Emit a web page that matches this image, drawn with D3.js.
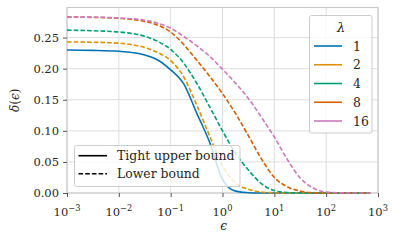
<!DOCTYPE html>
<html>
<head>
<meta charset="utf-8">
<script src="https://cdn.jsdelivr.net/npm/d3@7"></script>
<style>
  html, body { margin: 0; padding: 0; background: #fff; }
  svg { display: block; }
  text { font-family: "DejaVu Serif", serif; fill: #262626; }
</style>
</head>
<body>
<svg id="chart" width="397" height="246"></svg>
<script>
// ---- data ----
const logEps = [-3, -2.5, -2, -1.5, -1.25, -1, -0.75, -0.5, -0.25, 0, 0.25, 0.5, 0.75, 1, 1.25, 1.5, 1.75, 2, 2.5, 2.85];
const lambdas = ["1", "2", "4", "8", "16"];
const delta1  = [0.230, 0.2295, 0.228, 0.222, 0.214, 0.198, 0.176, 0.129, 0.082, 0.022, 0.003, 0.0005, 0, 0, 0, 0, 0, 0, 0, 0];
const delta2  = [0.243, 0.2425, 0.241, 0.234, 0.226, 0.213, 0.187, 0.142, 0.092, 0.044, 0.016, 0.006, 0.0015, 0.0003, 0, 0, 0, 0, 0, 0];
const delta4  = [0.262, 0.261, 0.259, 0.252, 0.244, 0.231, 0.209, 0.177, 0.139, 0.100, 0.064, 0.037, 0.015, 0.004, 0.0008, 0, 0, 0, 0, 0];
const delta8  = [0.283, 0.2825, 0.281, 0.276, 0.270, 0.259, 0.239, 0.214, 0.188, 0.160, 0.128, 0.092, 0.055, 0.025, 0.010, 0.003, 0.0005, 0, 0, 0];
const delta16 = [0.283, 0.2828, 0.2815, 0.278, 0.273, 0.265, 0.252, 0.237, 0.220, 0.199, 0.177, 0.152, 0.122, 0.090, 0.054, 0.024, 0.008, 0.0015, 0, 0];
const seriesValues = [delta1, delta2, delta4, delta8, delta16];
const seriesDashed = [false, true, true, true, true];
const colors = ["#0173b2", "#de8f05", "#029e73", "#d55e00", "#cc78bc"];
const xTicks = [1e-3, 1e-2, 1e-1, 1e0, 1e1, 1e2, 1e3];
const xTickExp = ["\u22123", "\u22122", "\u22121", "0", "1", "2", "3"];
const yTicks = [0, 0.05, 0.10, 0.15, 0.20, 0.25];
const styleLabels = ["Tight upper bound", "Lower bound"];

// ---- layout ----
const svg = d3.select("#chart");
const L = 67, R = 378, T = 7.5, B = 193;
const FS = 11.5, LFS = 12.4;
const x = d3.scaleLog().domain([1e-3, 1e3]).range([L, R]);
const y = d3.scaleLinear().domain([0, 0.2984]).range([B, T]);
const gridColor = "#dedede", frameColor = "#c8c8c8", tickColor = "#555";

// grid
svg.append("g").selectAll("line.vg").data(xTicks).join("line")
  .attr("x1", d => x(d)).attr("x2", d => x(d)).attr("y1", T).attr("y2", B)
  .attr("stroke", gridColor).attr("stroke-width", 1);
svg.append("g").selectAll("line.hg").data(yTicks).join("line")
  .attr("x1", L).attr("x2", R).attr("y1", d => y(d)).attr("y2", d => y(d))
  .attr("stroke", gridColor).attr("stroke-width", 1);

// frame
svg.append("rect").attr("x", L).attr("y", T).attr("width", R - L).attr("height", B - T)
  .attr("fill", "none").attr("stroke", frameColor).attr("stroke-width", 1.1);

// axes
const yAxis = d3.axisLeft(y).tickValues(yTicks).tickFormat(d3.format(".2f")).tickSize(4).tickPadding(4);
const gy = svg.append("g").attr("transform", `translate(${L},0)`).call(yAxis);
gy.attr("font-family", null);
gy.select(".domain").remove();
gy.selectAll(".tick line").attr("stroke", tickColor);
gy.selectAll(".tick text").attr("font-size", FS).attr("fill", "#262626");

const xAxis = d3.axisBottom(x).tickValues(xTicks).tickFormat("").tickSize(4);
const gx = svg.append("g").attr("transform", `translate(0,${B})`).call(xAxis);
gx.select(".domain").remove();
gx.selectAll(".tick line").attr("stroke", tickColor);
// tick labels 10^k
const xl = svg.append("g");
xTicks.forEach((t, i) => {
  const tx = xl.append("text").attr("x", x(t)).attr("y", 216).attr("text-anchor", "middle")
    .attr("font-size", FS);
  tx.append("tspan").text("10");
  tx.append("tspan").attr("dy", -5).attr("font-size", 8.3).text(xTickExp[i]);
});

// axis labels
svg.append("text").attr("x", (L + R) / 2 + 1).attr("y", 230).attr("text-anchor", "middle")
  .attr("font-size", 12).attr("font-style", "italic").text("\u03f5");
svg.append("text").attr("transform", `translate(19,${(T + B) / 2}) rotate(-90)`)
  .attr("text-anchor", "middle").attr("font-size", 12)
  .html('<tspan font-style="italic">\u03b4</tspan>(<tspan font-style="italic">\u03f5</tspan>)');

// lines
const line = d3.line().x(d => x(Math.pow(10, d[0]))).y(d => y(d[1])).curve(d3.curveMonotoneX);
const gl = svg.append("g");
seriesValues.forEach((vals, i) => {
  const pts = logEps.map((e, j) => [e, vals[j]]);
  gl.append("path").attr("d", line(pts)).attr("fill", "none")
    .attr("stroke", colors[i]).attr("stroke-width", 1.6)
    .attr("stroke-dasharray", seriesDashed[i] ? "4.6,2.1" : null);
});

// legend: lambda
const lg = svg.append("g");
lg.append("rect").attr("x", 309.5).attr("y", 15.5).attr("width", 62.5).attr("height", 117.5).attr("rx", 2)
  .attr("fill", "#fff").attr("fill-opacity", 0.8).attr("stroke", "#cccccc").attr("stroke-width", 1);
lg.append("text").attr("x", 341).attr("y", 32).attr("text-anchor", "middle").attr("font-size", 13)
  .attr("font-style", "italic").text("\u03bb");
lambdas.forEach((lab, i) => {
  const yy = 46 + i * 18.75;
  lg.append("line").attr("x1", 314).attr("x2", 342).attr("y1", yy).attr("y2", yy)
    .attr("stroke", colors[i]).attr("stroke-width", 1.6);
  lg.append("text").attr("x", 353).attr("y", yy + 4.5).attr("font-size", LFS).text(lab);
});

// legend: bound type
const lg2 = svg.append("g");
lg2.append("rect").attr("x", 74.5).attr("y", 145.5).attr("width", 165.5).attr("height", 41).attr("rx", 2)
  .attr("fill", "#fff").attr("fill-opacity", 0.8).attr("stroke", "#cccccc").attr("stroke-width", 1);
styleLabels.forEach((lab, i) => {
  const yy = 155.7 + i * 18;
  lg2.append("line").attr("x1", 78.5).attr("x2", 107).attr("y1", yy).attr("y2", yy)
    .attr("stroke", "#000").attr("stroke-width", 1.6)
    .attr("stroke-dasharray", i === 1 ? "4.6,2.1" : null);
  lg2.append("text").attr("x", 117).attr("y", yy + 4.5).attr("font-size", LFS).text(lab);
});
</script>
</body>
</html>
